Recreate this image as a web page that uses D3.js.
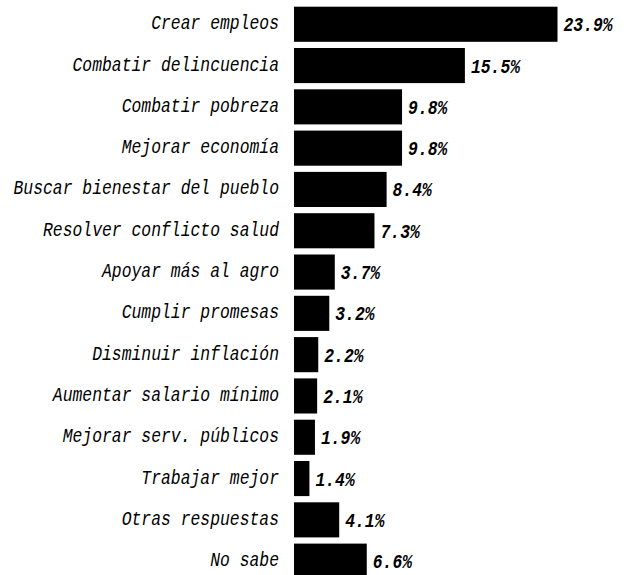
<!DOCTYPE html>
<html>
<head>
<meta charset="utf-8">
<script src="https://cdn.jsdelivr.net/npm/d3@7"></script>
<style>
  body { margin: 0; background: #fff; }
  .lbl { font-family: "Liberation Mono", "DejaVu Sans Mono", monospace; font-style: italic; }
  .val { font-family: "Liberation Mono", "DejaVu Sans Mono", monospace; font-style: italic; font-weight: bold; }
</style>
</head>
<body>
<div id="chart"></div>
<script>
let categories = ["Crear empleos", "Combatir delincuencia", "Combatir pobreza", "Mejorar economía",
    "Buscar bienestar del pueblo", "Resolver conflicto salud", "Apoyar más al agro", "Cumplir promesas",
    "Disminuir inflación", "Aumentar salario mínimo", "Mejorar serv. públicos", "Trabajar mejor",
    "Otras respuestas", "No sabe"];
let values = [23.9, 15.5, 9.8, 9.8, 8.4, 7.3, 3.7, 3.2, 2.2, 2.1, 1.9, 1.4, 4.1, 6.6];

let width = 625, height = 575;
let squeeze = 0.8; // glyphs in the original are tall and narrow

let svg = d3.select("#chart").append("svg")
    .attr("width", width)
    .attr("height", height);

// x scale: bars start at 294
let x = d3.scaleLinear().domain([0, 23.9]).range([294, 557.5]);

let y = d3.scaleBand()
    .domain(categories)
    .range([3.6, 581.8])
    .paddingInner(0.15)
    .paddingOuter(0.075);

let data = categories.map(function (c, i) { return {label: c, value: values[i]}; });

let row = svg.selectAll(".row")
    .data(data)
    .enter().append("g")
    .attr("class", "row");

row.append("rect")
    .attr("x", x(0))
    .attr("y", function (d) { return y(d.label); })
    .attr("width", function (d) { return x(d.value) - x(0); })
    .attr("height", y.bandwidth())
    .attr("fill", "#000");

// category labels, right aligned before the bars
row.append("text")
    .attr("class", "lbl")
    .attr("transform", function (d) {
        return "translate(279," + (y(d.label) + y.bandwidth() / 2 + 5) + ") scale(" + squeeze + ",1)";
    })
    .attr("text-anchor", "end")
    .attr("font-size", "20.5px")
    .text(function (d) { return d.label; });

// value labels after the bar end
row.append("text")
    .attr("class", "val")
    .attr("transform", function (d) {
        return "translate(" + (x(d.value) + 6) + "," + (y(d.label) + y.bandwidth() / 2 + 7) + ") scale(" + squeeze + ",1)";
    })
    .attr("font-size", "20.5px")
    .text(function (d) { return d.value.toFixed(1) + "%"; });
</script>
</body>
</html>
